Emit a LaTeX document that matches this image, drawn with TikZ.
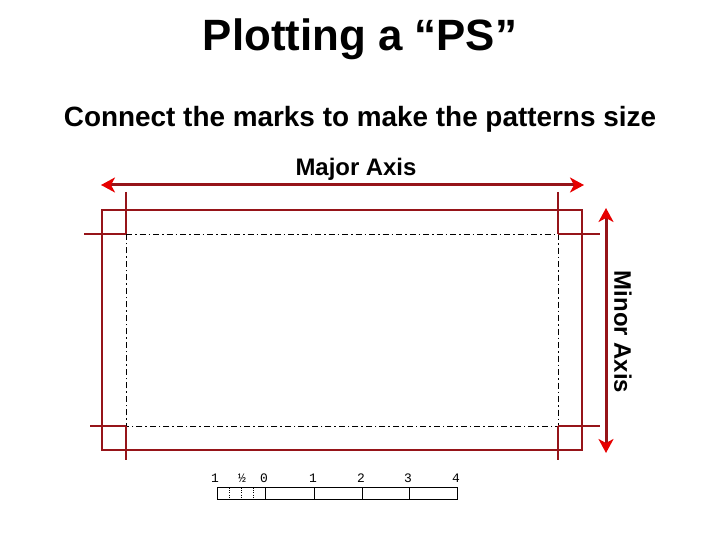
\documentclass[tikz,border=0pt]{standalone}
\usepackage{fontspec}
\setmainfont{Liberation Sans}
\newfontfamily\scalefont{Liberation Mono}
\usetikzlibrary{arrows.meta}
\definecolor{lineRed}{RGB}{150,20,25}
\definecolor{tipRed}{RGB}{230,0,0}
\tikzset{
  redline/.style={draw=lineRed, line width=1.1bp},
  dashdot/.style={draw=black, line width=0.9bp, dash pattern=on 6bp off 3bp on 1.5bp off 3bp},
  axisarrow/.style={draw=lineRed, line width=3bp, {Stealth[length=14bp,width=15bp,inset=4bp,color=tipRed]}-{Stealth[length=14bp,width=15bp,inset=4bp,color=tipRed]}},
  scalebox/.style={draw=black, line width=0.7bp},
  scaledot/.style={draw=black, line width=0.6bp, dash pattern=on 1bp off 1.2bp},
  scalelbl/.style={font=\scalefont\fontsize{13}{13}\selectfont, inner sep=0pt}
}
\begin{document}
\begin{tikzpicture}[x=1bp,y=-1bp]
\useasboundingbox (0,0) rectangle (720,540);

% texts
\node (title) at (360,39) {\fontsize{44}{48}\selectfont\bfseries Plotting a “PS”};
\node (sub) at (360,119) {\fontsize{28}{32}\selectfont\bfseries Connect the marks to make the patterns size};
\node (major) at (356,169) {\fontsize{24}{28}\selectfont\bfseries Major Axis};
\node[rotate=-90] (minor) at (623,332) {\fontsize{24}{28}\selectfont\bfseries Minor Axis};

% axis arrows
\coordinate (majL) at (101,185);
\coordinate (majR) at (584,185);
\coordinate (minT) at (606,208);
\coordinate (minB) at (606,453);
\draw[axisarrow] (majL) -- (majR);
\draw[axisarrow] (minT) -- (minB);

% red outer rectangle
\coordinate (rTL) at (102,210);
\coordinate (rBR) at (582,450);
\draw[redline] (rTL) rectangle (rBR);

% inner dash-dot rectangle
\coordinate (iTL) at (126,234);
\coordinate (iTR) at (558,234);
\coordinate (iBR) at (558,426);
\coordinate (iBL) at (126,426);
\draw[dashdot] (iTL) -- (iTR) -- (iBR) -- (iBL) -- cycle;

% red extension marks
\draw[redline] (126,192) -- (iTL);
\draw[redline] (558,192) -- (iTR);
\draw[redline] (iBL) -- (126,460);
\draw[redline] (iBR) -- (558,460);
\draw[redline] (84,234) -- (iTL);
\draw[redline] (iTR) -- (600,234);
\draw[redline] (90,426) -- (iBL);
\draw[redline] (iBR) -- (600,426);

% scale bar
\draw[scalebox] (217,487) rectangle (457,499);
\foreach \x in {265,314,362,409} \draw[scalebox] (\x,487) -- (\x,499);
\foreach \x in {229,241,253} \draw[scaledot] (\x,488) -- (\x,498);
\node[scalelbl] (s1) at (215,478) {1};
\node[scalelbl] (sh) at (242,478) {½};
\node[scalelbl] (s0) at (264,478) {0};
\node[scalelbl] (sa) at (313,478) {1};
\node[scalelbl] (sb) at (361,478) {2};
\node[scalelbl] (sc) at (408,478) {3};
\node[scalelbl] (sd) at (456,478) {4};
\end{tikzpicture}
\end{document}
